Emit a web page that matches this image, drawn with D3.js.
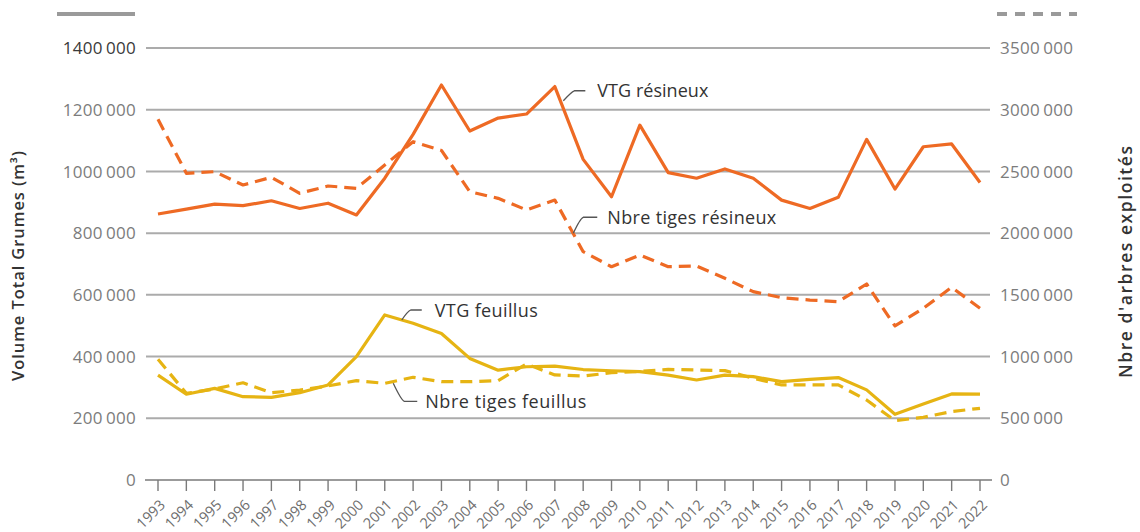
<!DOCTYPE html>
<html><head><meta charset="utf-8">
<script src="https://cdn.jsdelivr.net/npm/d3@7"></script>
<style>
body{margin:0;background:#fff;}
svg{display:block;font-family:'Open Sans','Noto Sans',sans-serif;}
</style>
</head><body>
<svg id="c" width="1140" height="532"></svg>
<script>
const years = [1993,1994,1995,1996,1997,1998,1999,2000,2001,2002,2003,2004,2005,2006,2007,2008,2009,2010,2011,2012,2013,2014,2015,2016,2017,2018,2019,2020,2021,2022];
const vtgResineux = [862000,878000,894000,889000,905000,880000,897000,859000,978000,1120000,1280000,1131000,1173000,1186000,1275000,1039000,918000,1150000,996000,978000,1008000,978000,907000,880000,916000,1104000,943000,1080000,1089000,964000];
const nbreResineux = [2922000,2485000,2498000,2390000,2452000,2323000,2382000,2363000,2552000,2741000,2670000,2336000,2282000,2188000,2268000,1850000,1728000,1823000,1728000,1734000,1634000,1526000,1477000,1458000,1445000,1588000,1248000,1391000,1561000,1391000];
const vtgFeuillus = [340000,278000,297000,270000,268000,283000,308000,400000,535000,508000,475000,394000,356000,367000,369000,358000,354000,351000,340000,324000,340000,335000,319000,326000,332000,292000,213000,246000,279000,278000];
const nbreFeuillus = [978000,702000,737000,788000,707000,729000,762000,805000,783000,832000,797000,797000,805000,940000,851000,842000,869000,880000,896000,891000,886000,824000,770000,770000,770000,648000,481000,508000,554000,581000];
const leftTicks = [0,200000,400000,600000,800000,1000000,1200000,1400000];
const rightTicks = [0,500000,1000000,1500000,2000000,2500000,3000000,3500000];
const leftTitle = "Volume Total Grumes (m³)";
const rightTitle = "Nbre d'arbres exploités";
const annotations = [
  {text:"VTG résineux", year:2007.3, value:1229000, axis:"left", ex:8, ey:-10, len:14, gap:12, w:111},
  {text:"Nbre tiges résineux", year:2007.65, value:1999000, axis:"right", ex:7, ey:-16, len:17, gap:10, w:169},
  {text:"VTG feuillus", year:2001.6, value:518500, axis:"left", ex:6, ey:-10, len:14, gap:13, w:103},
  {text:"Nbre tiges feuillus", year:2001.3, value:783400, axis:"right", ex:8, ey:18, len:16, gap:8, w:161}
];

const ORANGE = "#ee6a24", YELLOW = "#e6b413";
const svg = d3.select("#c");
const x = d3.scaleLinear().domain([1993, 2022]).range([158, 980]);
const yL = d3.scaleLinear().domain([0, 1400000]).range([480, 48]);
const yR = d3.scaleLinear().domain([0, 3500000]).range([480, 48]);
const fmt = v => { const s = String(v); return v < 1000 ? s : s.slice(0, -3) + "\u2009" + s.slice(-3); };

// gridlines
svg.append("g").selectAll("line").data(leftTicks.filter(d => d > 0)).join("line")
  .attr("x1", 146).attr("x2", 990).attr("y1", d => yL(d)).attr("y2", d => yL(d))
  .attr("stroke", "#ababab").attr("stroke-width", 2);

// baseline + x ticks
svg.append("line").attr("x1", 145).attr("x2", 992).attr("y1", yL(0)).attr("y2", yL(0))
  .attr("stroke", "#7a7a7a").attr("stroke-width", 1.6);
const xg = svg.append("g");
xg.selectAll("line").data(years).join("line")
  .attr("x1", d => x(d)).attr("x2", d => x(d)).attr("y1", yL(0)).attr("y2", yL(0) + 11)
  .attr("stroke", "#7a7a7a").attr("stroke-width", 1.4);
xg.selectAll("text").data(years).join("text")
  .attr("transform", d => `translate(${x(d) + 8},${yL(0) + 26}) rotate(-45)`)
  .attr("text-anchor", "end").attr("font-size", 14.5).attr("fill", "#6e6e6e")
  .text(d => d);

// left tick labels
svg.append("g").selectAll("text").data(leftTicks).join("text")
  .attr("x", 136).attr("y", d => yL(d)).attr("dy", "0.36em")
  .attr("text-anchor", "end").attr("font-size", 17).attr("letter-spacing", 0.3)
  .attr("fill", d => d === 1400000 ? "#3a3a3a" : "#7c7c7c").text(fmt);
// right tick labels
svg.append("g").selectAll("text").data(rightTicks).join("text")
  .attr("x", 1000).attr("y", d => yR(d)).attr("dy", "0.36em")
  .attr("text-anchor", "start").attr("font-size", 17).attr("letter-spacing", 0.3)
  .attr("fill", "#7c7c7c").text(fmt);

// axis titles
svg.append("text").attr("transform", "translate(24,266) rotate(-90)")
  .attr("text-anchor", "middle").attr("font-size", 16.5).attr("font-weight", 600)
  .attr("textLength", 230).attr("lengthAdjust", "spacing")
  .attr("fill", "#333").text(leftTitle);
svg.append("text").attr("transform", "translate(1132,262) rotate(-90)")
  .attr("text-anchor", "middle").attr("font-size", 17.5).attr("font-weight", 600)
  .attr("textLength", 232).attr("lengthAdjust", "spacing")
  .attr("fill", "#333").text(rightTitle);

// legend keys
svg.append("line").attr("x1", 57).attr("x2", 135).attr("y1", 14).attr("y2", 14)
  .attr("stroke", "#9a9a9a").attr("stroke-width", 4);
svg.append("line").attr("x1", 997).attr("x2", 1077).attr("y1", 14).attr("y2", 14)
  .attr("stroke", "#9a9a9a").attr("stroke-width", 4).attr("stroke-dasharray", "10,8");

// series
const series = [
  {vals: nbreFeuillus, y: yR, color: YELLOW, dash: "12,7"},
  {vals: vtgFeuillus, y: yL, color: YELLOW, dash: null},
  {vals: nbreResineux, y: yR, color: ORANGE, dash: "12,7"},
  {vals: vtgResineux, y: yL, color: ORANGE, dash: null}
];
series.forEach(s => {
  const line = d3.line().x((d, i) => x(years[i])).y(d => s.y(d));
  svg.append("path").attr("d", line(s.vals)).attr("fill", "none")
    .attr("stroke", s.color).attr("stroke-width", 3.2)
    .attr("stroke-linejoin", "round")
    .attr("stroke-dasharray", s.dash);
});

// annotations
const ag = svg.append("g");
annotations.forEach(a => {
  const ax = x(a.year), ay = (a.axis === "left" ? yL : yR)(a.value);
  const ex = ax + a.ex, ey = ay + a.ey;
  ag.append("path").attr("d", `M${ax},${ay} Q${ex},${ey + (a.ey < 0 ? 1 : -1)} ${ex + 3},${ey} L${ex + a.len},${ey}`)
    .attr("fill", "none").attr("stroke", "#555").attr("stroke-width", 1.3);
  ag.append("text").attr("x", ex + a.len + a.gap).attr("y", ey + 6.5)
    .attr("font-size", 18).attr("fill", "#333")
    .attr("textLength", a.w).attr("lengthAdjust", "spacing").text(a.text);
});
</script>
</body></html>
